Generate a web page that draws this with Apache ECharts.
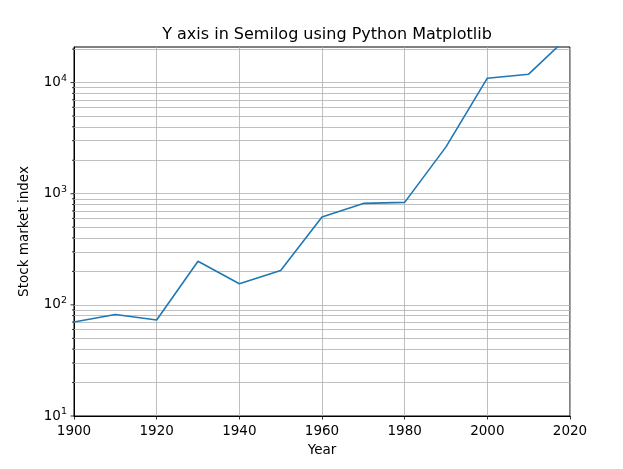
<!DOCTYPE html>
<html>
<head>
<meta charset="utf-8">
<script src="https://cdn.jsdelivr.net/npm/echarts@6/dist/echarts.min.js"></script>
<style>html,body{margin:0;padding:0;background:#fff}#c{width:623px;height:469px}</style>
</head>
<body>
<div id="c"></div>
<script>
var years = [1900, 1910, 1920, 1930, 1940, 1950, 1960, 1970, 1980, 1990, 2000, 2010, 2020];
var values = [70, 82, 73, 247, 155, 204, 618, 818, 836, 2640, 10950, 11900, 26800];
var xTicks = [1900, 1920, 1940, 1960, 1980, 2000, 2020];
var majorY = [10, 100, 1000, 10000];
var minorY = [20,30,40,50,60,70,80,90,200,300,400,500,600,700,800,900,2000,3000,4000,5000,6000,7000,8000,9000,20000];
var yMin = 10, yMax = 20900;

var font = 'DejaVu Sans';
var chart = echarts.init(document.getElementById('c'));

function tickSeries(vals, len) {
  return {
    type: 'custom', clip: false, silent: true, z: 5,
    data: vals.map(function(v){ return [xTicks[0], v]; }),
    renderItem: function(params, api) {
      var p = api.coord([api.value(0), api.value(1)]);
      return {type: 'line', shape: {x1: p[0] - len, y1: p[1], x2: p[0], y2: p[1]},
              style: {stroke: '#000', lineWidth: 0.8}};
    }
  };
}

chart.setOption({
  animation: false,
  title: {
    text: 'Y axis in Semilog using Python Matplotlib',
    left: 322, top: 22, textAlign: 'center',
    textStyle: {fontFamily: font, fontSize: 16, fontWeight: 'normal', color: '#000'}
  },
  grid: {left: 74, right: 53, top: 47, bottom: 53, show: true, borderColor: '#000', borderWidth: 1, backgroundColor: 'transparent'},
  xAxis: {
    type: 'value', min: 1900, max: 2020, interval: 20,
    name: 'Year', nameLocation: 'middle', nameGap: 27,
    nameTextStyle: {fontFamily: font, fontSize: 13.5, color: '#000'},
    axisLine: {show: true, lineStyle: {color: '#000', width: 1}},
    axisTick: {show: true, length: 3.5, inside: false, lineStyle: {color: '#000', width: 0.8}},
    axisLabel: {fontFamily: font, fontSize: 13.5, color: '#000', margin: 8,
      formatter: function(v){ return String(v); }},
    splitLine: {show: true, lineStyle: {color: '#b0b0b0', width: 0.8}}
  },
  yAxis: {
    type: 'log', logBase: 10, min: yMin, max: yMax,
    name: 'Stock market index', nameLocation: 'middle', nameGap: 43,
    nameTextStyle: {fontFamily: font, fontSize: 13.5, color: '#000'},
    axisLine: {show: true, lineStyle: {color: '#000', width: 1}},
    axisTick: {show: false},
    axisLabel: {
      fontFamily: font, fontSize: 13.5, color: '#000', margin: 7,
      showMaxLabel: false,
      formatter: function(v) {
        var e = Math.round(Math.log10(v));
        if (Math.abs(Math.pow(10, e) - v) > 1e-6 * v) return '';
        return '{b|10}{s|' + e + '}';
      },
      rich: {
        b: {fontFamily: font, fontSize: 13.5, color: '#000'},
        s: {fontFamily: font, fontSize: 9.5, color: '#000', verticalAlign: 'bottom', padding: [0,0,8,0]}
      }
    },
    splitLine: {show: false}
  },
  series: [
    {
      type: 'line', data: [], silent: true,
      markLine: {
        silent: true, symbol: 'none', label: {show: false}, animation: false,
        lineStyle: {color: '#b0b0b0', width: 0.8, type: 'solid'},
        data: majorY.concat(minorY).filter(function(v){return v > yMin && v < yMax;}).map(function(v){ return {yAxis: v}; })
      }
    },
    tickSeries(majorY, 3.5),
    tickSeries(minorY.filter(function(v){return v < yMax;}), 2),
    {
      type: 'line', clip: true, z: 10,
      data: years.map(function(y, i){ return [y, values[i]]; }),
      showSymbol: false, symbol: 'none',
      lineStyle: {color: '#1f77b4', width: 1.6},
      itemStyle: {color: '#1f77b4'}
    }
  ]
});
</script>
</body>
</html>
